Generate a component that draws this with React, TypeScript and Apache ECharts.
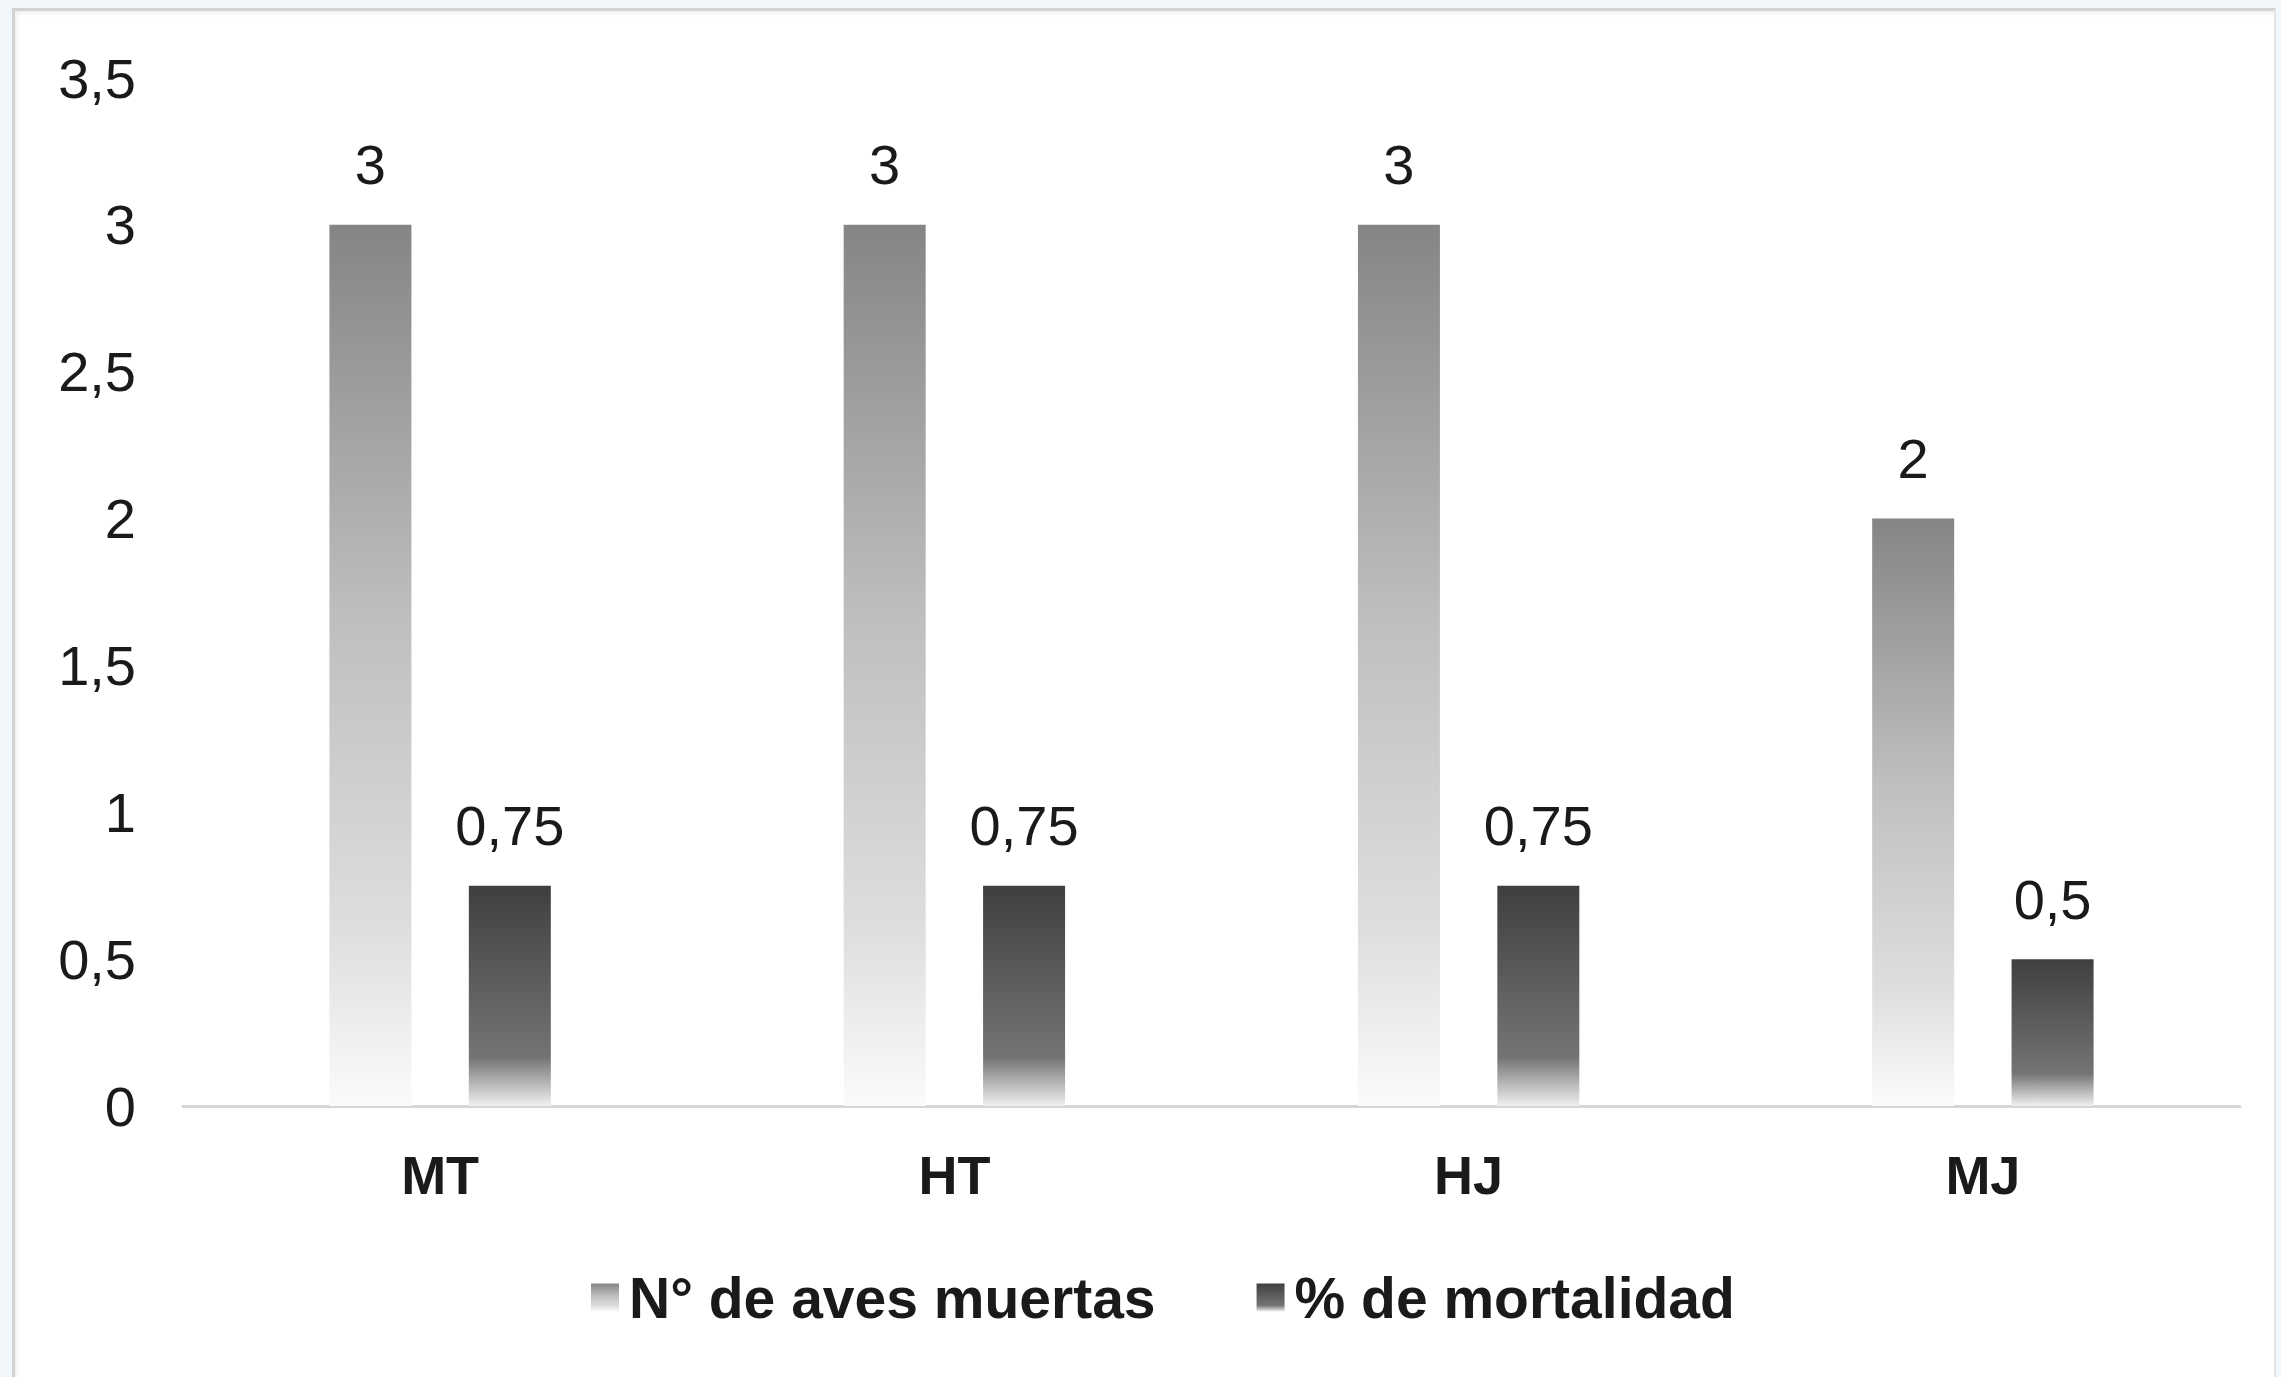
import React, { useEffect, useRef } from "react";
import * as echarts from "echarts";

const categories = ["MT", "HT", "HJ", "MJ"];
const seriesNames = ["N° de aves muertas", "% de mortalidad"];
const avesMuertas = [3, 3, 3, 2];
const mortalidad = [0.75, 0.75, 0.75, 0.5];
const yMin = 0;
const yMax = 3.5;
const yInterval = 0.5;

const FONT = "'Liberation Sans', Arial, sans-serif";
const fmt = (v: number) => String(v).replace(".", ",");

export default function App() {
  const ref = useRef<HTMLDivElement>(null);

  useEffect(() => {
    if (!ref.current) return;
    const chart = echarts.init(ref.current, undefined, { renderer: "svg" });

    const lightGrad = new echarts.graphic.LinearGradient(0, 0, 0, 1, [
      { offset: 0, color: "#858585" },
      { offset: 0.45, color: "#bfbfbf" },
      { offset: 0.8, color: "#dedede" },
      { offset: 1, color: "#fbfbfb" },
    ]);
    const darkGrad = new echarts.graphic.LinearGradient(0, 0, 0, 1, [
      { offset: 0, color: "#3f3f3f" },
      { offset: 0.78, color: "#747474" },
      { offset: 1, color: "#f0f0f0" },
    ]);

    const labelStyle = {
      show: true,
      position: "top" as const,
      distance: 32,
      fontFamily: FONT,
      fontSize: 56,
      lineHeight: 56,
      color: "#1a1a1a",
      formatter: (p: any) => fmt(p.value),
    };

    chart.setOption({
      animation: false,
      backgroundColor: "transparent",
      textStyle: { fontFamily: FONT },
      grid: { left: 183, right: 41, top: 78, height: 1028, containLabel: false },
      legend: {
        show: true,
        data: seriesNames,
        left: 586,
        top: 1264,
        itemWidth: 28,
        itemHeight: 28,
        itemGap: 101,
        icon: "rect",
        textStyle: {
          fontFamily: FONT,
          fontSize: 57,
          fontWeight: "bold",
          color: "#1a1a1a",
          padding: [0, 0, 0, 5],
        },
      },
      xAxis: {
        type: "category",
        data: categories,
        axisLine: { show: true, lineStyle: { color: "#d6d6d6", width: 3 } },
        axisTick: { show: false },
        axisLabel: {
          fontFamily: FONT,
          fontSize: 54,
          lineHeight: 54,
          fontWeight: "bold",
          color: "#1a1a1a",
          margin: 42,
        },
        splitLine: { show: false },
      },
      yAxis: {
        type: "value",
        min: yMin,
        max: yMax,
        interval: yInterval,
        axisLine: { show: false },
        axisTick: { show: false },
        splitLine: { show: false },
        axisLabel: {
          fontFamily: FONT,
          fontSize: 56,
          color: "#1a1a1a",
          margin: 47,
          formatter: (v: number) => fmt(v),
        },
      },
      series: [
        {
          name: seriesNames[0],
          type: "bar",
          data: avesMuertas,
          barWidth: 82,
          barGap: "70%",
          itemStyle: { color: lightGrad },
          label: labelStyle,
        },
        {
          name: seriesNames[1],
          type: "bar",
          data: mortalidad,
          barWidth: 82,
          barGap: "70%",
          itemStyle: { color: darkGrad },
          label: labelStyle,
        },
      ],
    });

    return () => chart.dispose();
  }, []);

  return (
    <div
      style={{
        position: "absolute",
        left: 0,
        top: 0,
        width: 2281,
        height: 1377,
        background: "#f2f7fb",
        overflow: "hidden",
      }}
    >
      <div
        style={{
          position: "absolute",
          left: 12,
          top: 8,
          width: 2259,
          height: 1380,
          background: "#ffffff",
          borderLeft: "3px solid #d2d2d2",
          borderTop: "3px solid #d2d2d2",
          borderRight: "2px solid #e4e4e4",
          boxShadow: "inset 2px 3px 4px rgba(0,0,0,0.06)",
        }}
      />
      <div
        ref={ref}
        style={{ position: "absolute", left: 0, top: 0, width: 2281, height: 1377 }}
      />
    </div>
  );
}
